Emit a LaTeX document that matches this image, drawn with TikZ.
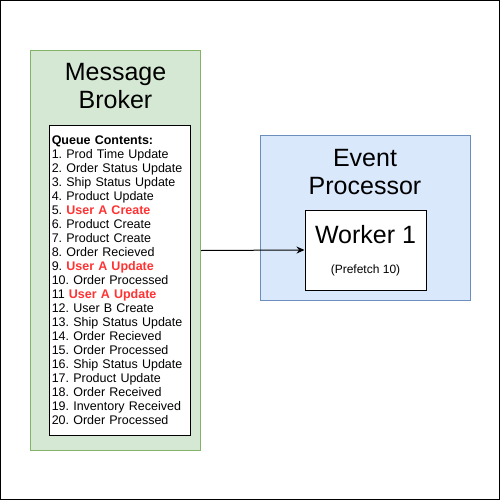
\documentclass[tikz,border=0pt]{standalone}
\usepackage{fontspec}
\setmainfont{Liberation Sans}
\usetikzlibrary{arrows.meta,positioning}
\definecolor{brokerfill}{HTML}{D5E8D4}
\definecolor{brokerline}{HTML}{82B366}
\definecolor{procfill}{HTML}{DAE8FC}
\definecolor{procline}{HTML}{6C8EBF}
\definecolor{hotred}{HTML}{FF3333}
\newcommand{\hot}[1]{\textcolor{hotred}{\textbf{#1}}}
\frenchspacing

\begin{document}
\begin{tikzpicture}[x=1pt, y=-1pt,
  box/.style={rectangle, draw, line width=1pt, inner sep=0pt},
  title/.style={align=center, font=\fontsize{25}{28}\selectfont, inner sep=0pt},
  arrow/.style={-{Stealth[length=8pt,width=7pt]}, line width=1pt}
]
  \useasboundingbox (0,0) rectangle (501,501);
  \node[box, minimum width=499pt, minimum height=499pt] (frame) at (250,250) {};

  \node[box, fill=brokerfill, draw=brokerline, minimum width=170pt, minimum height=400pt] (broker) at (115.5,250.5) {};
  \node[title] (brokertitle) at (115.5,86) {Message\\Broker};
  \node[box, fill=white, minimum width=140.5pt, minimum height=310pt, text width=137pt, inner xsep=2pt,
        align=left, font=\fontsize{12.5}{14}\selectfont] (queue) at (120.25,280) {%
    \textbf{Queue Contents:}\\
    1. Prod Time Update\\
    2. Order Status Update\\
    3. Ship Status Update\\
    4. Product Update\\
    5. \hot{User A Create}\\
    6. Product Create\\
    7. Product Create\\
    8. Order Recieved\\
    9. \hot{User A Update}\\
    10. Order Processed\\
    11 \hot{User A Update}\\
    12. User B Create\\
    13. Ship Status Update\\
    14. Order Recieved\\
    15. Order Processed\\
    16. Ship Status Update\\
    17. Product Update\\
    18. Order Received\\
    19. Inventory Received\\
    20. Order Processed};

  \node[box, fill=procfill, draw=procline, minimum width=210pt, minimum height=165pt] (processor) at (365,217.5) {};
  \node[title] (proctitle) at (365,172) {Event\\Processor};
  \node[box, fill=white, minimum width=121pt, minimum height=80pt] (worker) at (365.5,250) {};
  \node[title] (workertitle) at (365.5,235) {Worker 1};
  \node[font=\fontsize{12}{14}\selectfont, inner sep=0pt] (prefetch) at (365.5,270) {(Prefetch 10)};

  \draw[arrow] (broker.east) -- (worker.west);
\end{tikzpicture}
\end{document}
